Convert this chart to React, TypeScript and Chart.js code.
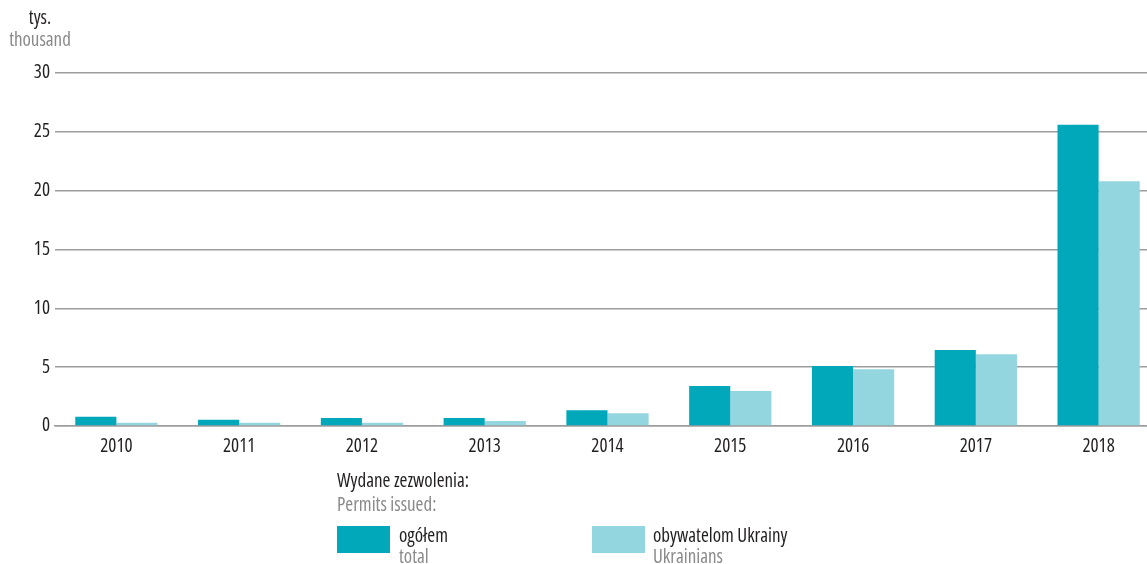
import React, { useEffect, useRef } from "react";
import { Chart, registerables } from "chart.js";

Chart.register(...registerables);

const categories = ["2010", "2011", "2012", "2013", "2014", "2015", "2016", "2017", "2018"];
const totalValues = [0.79, 0.54, 0.68, 0.68, 1.33, 3.4, 5.1, 6.46, 25.6];
const ukrainianValues = [0.28, 0.28, 0.28, 0.42, 1.08, 2.97, 4.82, 6.09, 20.8];
const yTicks = [0, 5, 10, 15, 20, 25, 30];

const FAMILY = '"Open Sans", "DejaVu Sans", sans-serif';
const STRETCH = "condensed";
const FONT_STR = `${STRETCH} 19px ${FAMILY}`;
const DARK = "#231f20";
const GRAY = "#8a8a8a";
const TEAL = "#00a8ba";
const LIGHT = "#94d6df";
const GRID = "#9d9d9d";

const textPlugin = {
  id: "texts",
  afterDraw(chart: any) {
    const ctx = chart.ctx;
    ctx.save();
    ctx.textBaseline = "middle";
    ctx.textAlign = "center";
    ctx.font = FONT_STR;
    ctx.fillStyle = DARK;
    ctx.fillText("tys.", 40, 19);
    ctx.fillStyle = GRAY;
    ctx.fillText("thousand", 40, 41);

    ctx.textAlign = "left";
    ctx.fillStyle = DARK;
    ctx.fillText("Wydane zezwolenia:", 337, 482);
    ctx.fillStyle = GRAY;
    ctx.fillText("Permits issued:", 337, 506);

    ctx.fillStyle = TEAL;
    ctx.fillRect(337, 526, 53, 27);
    ctx.fillStyle = LIGHT;
    ctx.fillRect(592, 526, 53, 27);

    ctx.fillStyle = DARK;
    ctx.fillText("ogółem", 399, 537);
    ctx.fillText("obywatelom Ukrainy", 653, 537);
    ctx.fillStyle = GRAY;
    ctx.fillText("total", 399, 558);
    ctx.fillText("Ukrainians", 653, 558);
    ctx.restore();
  },
};

export default function App() {
  const ref = useRef<HTMLCanvasElement | null>(null);
  useEffect(() => {
    if (!ref.current) return;
    const tickFont = { family: FAMILY, size: 19, weight: STRETCH as any };
    const chart = new Chart(ref.current, {
      type: "bar",
      data: {
        labels: categories,
        datasets: [
          {
            label: "ogółem",
            data: totalValues,
            backgroundColor: TEAL,
            categoryPercentage: 0.67,
            barPercentage: 1,
          },
          {
            label: "obywatelom Ukrainy",
            data: ukrainianValues,
            backgroundColor: LIGHT,
            categoryPercentage: 0.67,
            barPercentage: 1,
          },
        ],
      },
      options: {
        animation: false,
        responsive: false,
        maintainAspectRatio: false,
        layout: { padding: { top: 73, right: 0, bottom: 0, left: 0 } },
        plugins: { legend: { display: false }, tooltip: { enabled: false } },
        scales: {
          x: {
            grid: { display: false, drawTicks: false },
            border: { display: true, color: GRID, width: 1.5 },
            ticks: { color: DARK, font: tickFont, padding: 9 },
            afterFit: (s: any) => {
              s.height = 138;
            },
          },
          y: {
            min: 0,
            max: 30,
            afterBuildTicks: (s: any) => {
              s.ticks = yTicks.map((v) => ({ value: v }));
            },
            grid: { color: GRID, lineWidth: 1.5, drawTicks: false },
            border: { display: false },
            ticks: { color: DARK, font: tickFont, padding: 5 },
            afterFit: (s: any) => {
              s.width = 55;
            },
          },
        },
      },
      plugins: [textPlugin],
    });
    return () => chart.destroy();
  }, []);
  return (
    <div style={{ position: "fixed", left: 0, top: 0, width: 1147, height: 564, overflow: "hidden", background: "#fff" }}>
      <canvas ref={ref} width={1160} height={564} style={{ width: 1160, height: 564, display: "block" }} />
    </div>
  );
}
